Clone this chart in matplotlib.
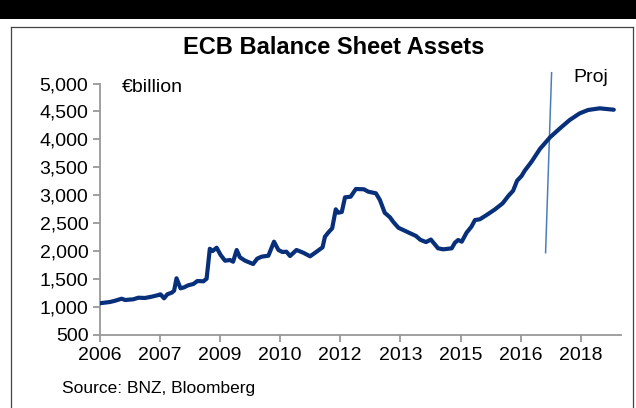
import matplotlib
matplotlib.use("Agg")
import matplotlib.pyplot as plt
from matplotlib.patches import Rectangle
from matplotlib.lines import Line2D

plt.rcParams['font.family'] = ['Liberation Sans', 'DejaVu Sans']

# Decimal-year dates and ECB assets (EUR bn)
years = [2006.00, 2006.26, 2006.39, 2006.55, 2006.64, 2006.84, 2006.97, 2007.13,
         2007.30, 2007.47, 2007.52, 2007.61, 2007.69, 2007.80, 2007.86, 2007.92,
         2008.02, 2008.11, 2008.21, 2008.34, 2008.44, 2008.59, 2008.67, 2008.75,
         2008.82, 2008.92, 2009.02, 2009.13, 2009.25, 2009.33, 2009.42, 2009.50,
         2009.63, 2009.83, 2009.93, 2010.04, 2010.21, 2010.35, 2010.46, 2010.56,
         2010.66, 2010.75, 2010.91, 2011.08, 2011.25, 2011.41, 2011.56, 2011.62,
         2011.70, 2011.80, 2011.89, 2011.95, 2012.04, 2012.12, 2012.26, 2012.39,
         2012.59, 2012.70, 2012.89, 2012.99, 2013.11, 2013.24, 2013.32, 2013.45,
         2013.66, 2013.89, 2014.00, 2014.14, 2014.26, 2014.44, 2014.57, 2014.78,
         2014.86, 2014.94, 2015.03, 2015.15, 2015.27, 2015.36, 2015.48, 2015.65,
         2015.86, 2016.05, 2016.19, 2016.31, 2016.41, 2016.52, 2016.60, 2016.77,
         2016.98, 2017.23, 2017.48, 2017.72, 2017.97, 2018.18, 2018.47, 2018.72,
         2018.82]
assets = [1063, 1086, 1109, 1145, 1122, 1134, 1163, 1158,
          1181, 1211, 1224, 1152, 1224, 1253, 1289, 1511,
          1331, 1349, 1385, 1409, 1462, 1457, 1503, 2040,
          2000, 2059, 1928, 1826, 1839, 1808, 2018, 1887,
          1826, 1767, 1862, 1898, 1916, 2167, 2018, 1982,
          1987, 1910, 2018, 1969, 1905, 1987, 2066, 2256,
          2328, 2407, 2747, 2686, 2699, 2962, 2973, 3111,
          3106, 3063, 3034, 2914, 2686, 2604, 2525, 2417,
          2346, 2269, 2200, 2160, 2205, 2048, 2030, 2048,
          2149, 2197, 2167, 2328, 2435, 2555, 2568, 2645,
          2747, 2855, 2985, 3080, 3260, 3344, 3439, 3600,
          3830, 4037, 4199, 4347, 4467, 4527, 4557, 4539,
          4532]

# Projection marker line (start/end points)
proj_x = [2017.27, 2017.12]
proj_y = [5195, 1970]

tick_pos = [2006.0, 2007.5, 2009.0, 2010.5, 2012.0, 2013.5, 2015.0, 2016.5, 2018.0]
tick_labels = ["2006", "2007", "2009", "2010", "2012", "2013", "2015", "2016", "2018"]
y_ticks = [500, 1000, 1500, 2000, 2500, 3000, 3500, 4000, 4500, 5000]

W, H = 636, 408
fig = plt.figure(figsize=(W / 100, H / 100), dpi=100)
fig.patch.set_facecolor('white')

# top black band and frame
fig.patches.append(Rectangle((0, 1 - 19 / H), 1, 19 / H, transform=fig.transFigure,
                             facecolor='black', edgecolor='none', zorder=0))
fig.add_artist(Line2D([11 / W, 11 / W], [0, 1 - 27 / H], transform=fig.transFigure,
                      color='#444444', lw=0.9))
fig.add_artist(Line2D([11 / W, 633 / W], [1 - 27 / H, 1 - 27 / H], transform=fig.transFigure,
                      color='#444444', lw=0.9))
fig.add_artist(Line2D([633 / W, 633 / W], [0, 1 - 27 / H], transform=fig.transFigure,
                      color='#444444', lw=0.9))

left, right = 99.5 / W, 621 / W
bottom, top = 1 - 334.7 / H, 1 - 83.6 / H
ax = fig.add_axes([left, bottom, right - left, top - bottom])

ax.plot(years, assets, color='#08307a', lw=3.0, solid_joinstyle='round',
        solid_capstyle='round', zorder=3)
ax.plot(proj_x, proj_y, color='#4a7ebb', lw=1.1, zorder=2, clip_on=False)

ax.set_xlim(2006.0, 2019.0)
ax.set_ylim(500, 5000)
ax.set_xticks(tick_pos)
ax.set_xticklabels(tick_labels)
ax.set_yticks(y_ticks)
ax.set_yticklabels([f"{v:,}" for v in y_ticks])

for s in ['top', 'right']:
    ax.spines[s].set_visible(False)
for s in ['left', 'bottom']:
    ax.spines[s].set_color('#999999')
    ax.spines[s].set_linewidth(1.3)
ax.tick_params(axis='both', colors='#999999', length=5, width=1.3,
               labelcolor='black', labelsize=14, direction='out')
ax.tick_params(axis='x', pad=4)
ax.tick_params(axis='y', pad=3)
ax.set_facecolor('none')

fig.text(334 / W, 1 - 47 / H, "ECB Balance Sheet Assets", ha='center', va='center',
         fontsize=17, fontweight='bold')
fig.text(122 / W, 1 - 87 / H, "€billion", ha='left', va='center', fontsize=14)
fig.text(573 / W, 1 - 77 / H, "Proj", ha='left', va='center', fontsize=14)
fig.text(62 / W, 1 - 388 / H, "Source: BNZ, Bloomberg", ha='left', va='center', fontsize=12.5)

fig.savefig("out.png", dpi=100)
